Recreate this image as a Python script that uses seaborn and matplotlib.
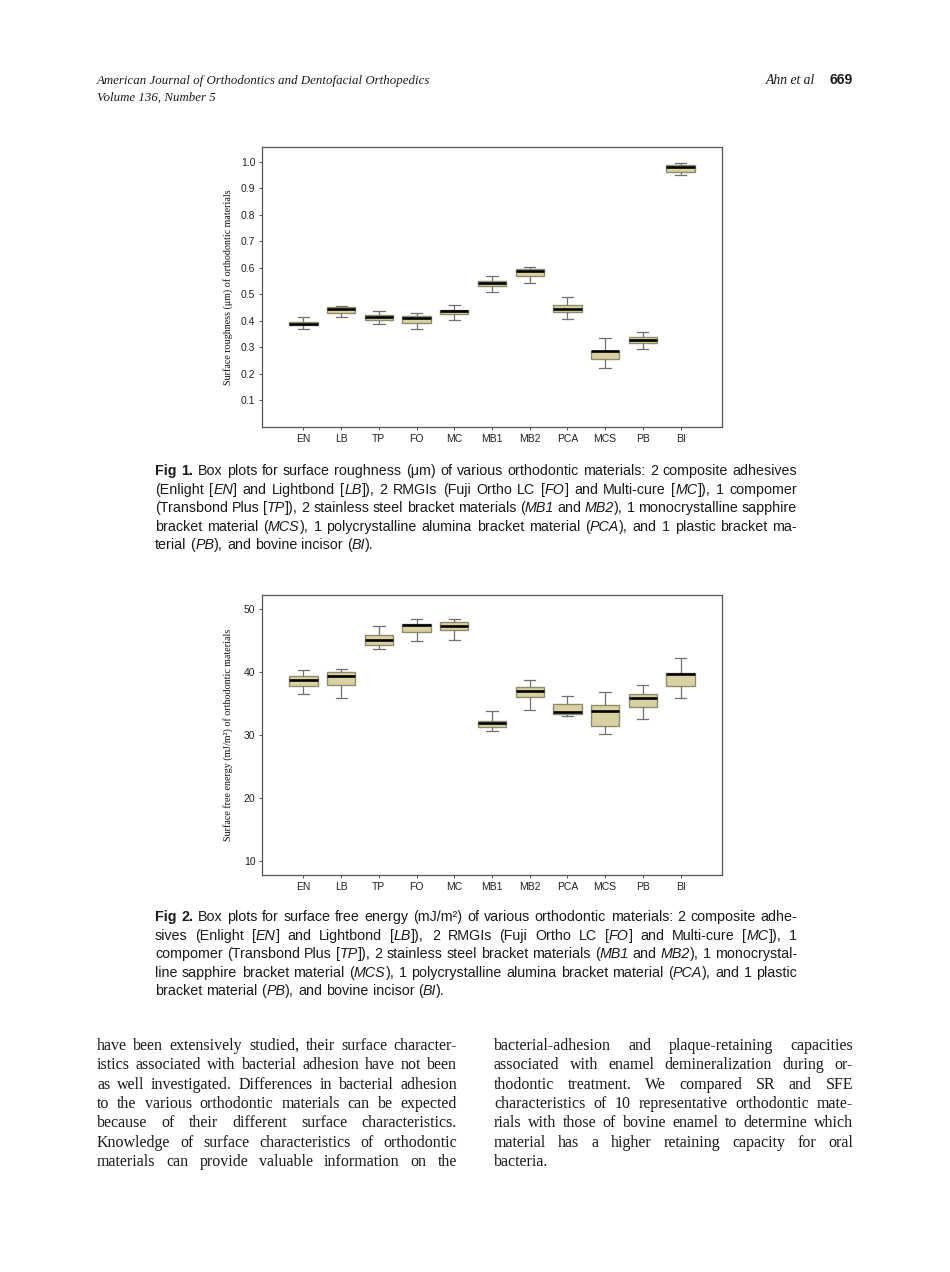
import re
import matplotlib
matplotlib.use("Agg")
import matplotlib.pyplot as plt
import numpy as np
import pandas as pd
import seaborn as sns

# ---------------- data ----------------
materials = ["EN", "LB", "TP", "FO", "MC", "MB1", "MB2", "PCA", "MCS", "PB", "BI"]

# Fig 1: surface roughness (um) five-number summaries
sr_low = [0.370, 0.413, 0.388, 0.368, 0.404, 0.508, 0.544, 0.408, 0.222, 0.293, 0.951]
sr_q1 = [0.383, 0.431, 0.402, 0.394, 0.426, 0.533, 0.570, 0.434, 0.255, 0.317, 0.962]
sr_med = [0.389, 0.446, 0.416, 0.412, 0.438, 0.543, 0.587, 0.444, 0.285, 0.327, 0.981]
sr_q3 = [0.397, 0.451, 0.424, 0.420, 0.442, 0.549, 0.597, 0.461, 0.288, 0.340, 0.990]
sr_high = [0.415, 0.458, 0.437, 0.429, 0.461, 0.570, 0.605, 0.492, 0.335, 0.359, 0.995]

# Fig 2: surface free energy (mJ/m2) five-number summaries
sfe_low = [36.5, 35.8, 43.6, 44.9, 45.1, 30.6, 33.9, 33.0, 30.2, 32.5, 35.8]
sfe_q1 = [37.7, 38.0, 44.3, 46.4, 46.7, 31.3, 36.0, 33.3, 31.5, 34.4, 37.7]
sfe_med = [38.7, 39.4, 45.0, 47.4, 47.3, 31.9, 37.0, 33.7, 33.8, 35.9, 39.7]
sfe_q3 = [39.3, 40.0, 45.8, 47.6, 48.0, 32.3, 37.6, 34.9, 34.8, 36.5, 39.8]
sfe_high = [40.3, 40.5, 47.3, 48.4, 48.4, 33.8, 38.7, 36.2, 36.9, 37.9, 42.3]

sr_ticks = [0.1, 0.2, 0.3, 0.4, 0.5, 0.6, 0.7, 0.8, 0.9, 1.0]
sfe_ticks = [10, 20, 30, 40, 50]

# ---------------- figure ----------------
W, H = 950, 1272
fig = plt.figure(figsize=(W / 100, H / 100), dpi=100)
fig.patch.set_facecolor("white")

BOX_FILL = "#d8d2a2"
BOX_EDGE = "#8f8c6c"
WHISK = "#707070"
SPINE = "#555555"
TICKFONT = ["Liberation Sans Narrow", "Liberation Sans", "DejaVu Sans"]


def long_frame(lo, q1, med, q3, hi):
    rows = []
    for i, m in enumerate(materials):
        for v in (lo[i], q1[i], med[i], q3[i], hi[i]):
            rows.append((m, v))
    return pd.DataFrame(rows, columns=["material", "value"])


def ax_rect(left, top, right, bottom):
    return [left / W, 1 - bottom / H, (right - left) / W, (bottom - top) / H]


def draw_box(ax, df, ylim, ticks, fmt, ylabel):
    sns.boxplot(data=df, x="material", y="value", order=materials, ax=ax,
                whis=(0, 100), width=0.75, color=BOX_FILL, linecolor=BOX_EDGE,
                linewidth=1.0, showfliers=False, saturation=1,
                medianprops=dict(color="black", linewidth=1.9),
                whiskerprops=dict(color=WHISK, linewidth=0.9),
                capprops=dict(color=WHISK, linewidth=0.9),
                capwidths=0.3)
    ax.set_xlim(-1.1, 11.1)
    ax.set_ylim(*ylim)
    ax.set_yticks(ticks)
    ax.set_yticklabels([fmt.format(t) for t in ticks])
    ax.set_xlabel("")
    ax.set_ylabel(ylabel, family=["Liberation Serif"], fontsize=7.2, color="#111111")
    ax.yaxis.set_label_coords(-0.063, 0.5)
    for s in ax.spines.values():
        s.set_color(SPINE)
        s.set_linewidth(0.9)
    ax.tick_params(axis="both", length=2.2, width=0.7, color=SPINE, pad=2.5,
                   labelsize=7.5, labelcolor="#222222")
    for lab in ax.get_xticklabels() + ax.get_yticklabels():
        lab.set_family(TICKFONT)
    ax.set_facecolor("white")
    ax.grid(False)


ax1 = fig.add_axes(ax_rect(262, 147, 722, 427))
draw_box(ax1, long_frame(sr_low, sr_q1, sr_med, sr_q3, sr_high),
         (0.0, 1.056), sr_ticks, "{:.1f}",
         "Surface roughness (\u03bcm) of orthodontic materials")

ax2 = fig.add_axes(ax_rect(262, 595, 722, 875))
draw_box(ax2, long_frame(sfe_low, sfe_q1, sfe_med, sfe_q3, sfe_high),
         (7.78, 52.22), sfe_ticks, "{:d}",
         "Surface free energy (mJ/m\u00b2) of orthodontic materials")

# ---------------- page text ----------------
renderer = fig.canvas.get_renderer()


def parse_runs(s):
    out = []
    for t in re.split(r"(\*\*.*?\*\*|\*.*?\*)", s):
        if not t:
            continue
        if t.startswith("**"):
            out.append((t[2:-2], "bold"))
        elif t.startswith("*"):
            out.append((t[1:-1], "italic"))
        else:
            out.append((t, "normal"))
    return out


def split_words(s):
    words = [[]]
    for text, style in parse_runs(s):
        parts = text.split(" ")
        for i, p in enumerate(parts):
            if i > 0 and words[-1]:
                words.append([])
            if p:
                words[-1].append((p, style))
    return [w for w in words if w]


def make_text(txt, style, family, size, color):
    kw = dict(fontsize=size, family=family, color=color, va="baseline", ha="left")
    if style == "bold":
        kw["fontweight"] = "bold"
    elif style == "italic":
        kw["fontstyle"] = "italic"
    return fig.text(0, 0, txt, **kw)


def width_px(t):
    return t.get_window_extent(renderer).width


def draw_paragraph(lines, x0, x1, y0, dy, family, size, justify_last=False,
                   color="#1a1a1a"):
    probe = fig.text(0, 0, "x x", fontsize=size, family=family)
    probe2 = fig.text(0, 0, "xx", fontsize=size, family=family)
    space = width_px(probe) - width_px(probe2)
    probe.remove()
    probe2.remove()
    for li, line in enumerate(lines):
        y = y0 + li * dy
        words = split_words(line)
        objs = []
        for w in words:
            wo = []
            for txt, st in w:
                t = make_text(txt, st, family, size, color)
                wo.append((t, width_px(t)))
            objs.append(wo)
        wwidths = [sum(w for _, w in wo) for wo in objs]
        total = sum(wwidths)
        last = li == len(lines) - 1
        if (not last or justify_last) and len(objs) > 1:
            gap = (x1 - x0 - total) / (len(objs) - 1)
        else:
            gap = space
        x = x0
        for wo, ww in zip(objs, wwidths):
            xx = x
            for t, w in wo:
                t.set_position((xx / W, 1 - y / H))
                xx += w
            x += ww + gap


SERIF = ["Liberation Serif", "DejaVu Serif"]
SANS = ["Liberation Sans", "DejaVu Sans"]

# header
fig.text(97 / W, 1 - 84 / H, "American Journal of Orthodontics and Dentofacial Orthopedics",
         family=SERIF, fontstyle="italic", fontsize=9.3, color="#1a1a1a", va="baseline")
fig.text(97 / W, 1 - 101 / H, "Volume 136, Number 5",
         family=SERIF, fontstyle="italic", fontsize=9.3, color="#1a1a1a", va="baseline")
fig.text(815 / W, 1 - 84 / H, "Ahn et al", family=SERIF, fontstyle="italic",
         fontsize=9.8, color="#1a1a1a", va="baseline", ha="right")
fig.text(853 / W, 1 - 84 / H, "669", family=SANS, fontweight="bold",
         fontsize=10, color="#1a1a1a", va="baseline", ha="right")

cap1 = [
    "**Fig 1.**  Box plots for surface roughness (\u03bcm) of various orthodontic materials: 2 composite adhesives",
    "(Enlight [*EN*] and Lightbond [*LB*]), 2 RMGIs (Fuji Ortho LC [*FO*] and Multi-cure [*MC*]), 1 compomer",
    "(Transbond Plus [*TP*]), 2 stainless steel bracket materials (*MB1* and *MB2*), 1 monocrystalline sapphire",
    "bracket material (*MCS*), 1 polycrystalline alumina bracket material (*PCA*), and 1 plastic bracket ma-",
    "terial (*PB*), and bovine incisor (*BI*).",
]
cap2 = [
    "**Fig 2.**  Box plots for surface free energy (mJ/m\u00b2) of various orthodontic materials: 2 composite adhe-",
    "sives (Enlight [*EN*] and Lightbond [*LB*]), 2 RMGIs (Fuji Ortho LC [*FO*] and Multi-cure [*MC*]), 1",
    "compomer (Transbond Plus [*TP*]), 2 stainless steel bracket materials (*MB1* and *MB2*), 1 monocrystal-",
    "line sapphire bracket material (*MCS*), 1 polycrystalline alumina bracket material (*PCA*), and 1 plastic",
    "bracket material (*PB*), and bovine incisor (*BI*).",
]
draw_paragraph(cap1, 155, 797, 475, 18.6, SANS, 10.3)
draw_paragraph(cap2, 155, 797, 921, 18.6, SANS, 10.3)

body_left = [
    "have been extensively studied, their surface character-",
    "istics associated with bacterial adhesion have not been",
    "as well investigated. Differences in bacterial adhesion",
    "to the various orthodontic materials can be expected",
    "because of their different surface characteristics.",
    "Knowledge of surface characteristics of orthodontic",
    "materials can provide valuable information on the",
]
body_right = [
    "bacterial-adhesion and plaque-retaining capacities",
    "associated with enamel demineralization during or-",
    "thodontic treatment. We compared SR and SFE",
    "characteristics of 10 representative orthodontic mate-",
    "rials with those of bovine enamel to determine which",
    "material has a higher retaining capacity for oral",
    "bacteria.",
]
draw_paragraph(body_left, 97, 457, 1050, 19.35, SERIF, 11.5, justify_last=True)
draw_paragraph(body_right, 494, 853, 1050, 19.35, SERIF, 11.5)

fig.savefig("out.png", dpi=100, facecolor="white")
